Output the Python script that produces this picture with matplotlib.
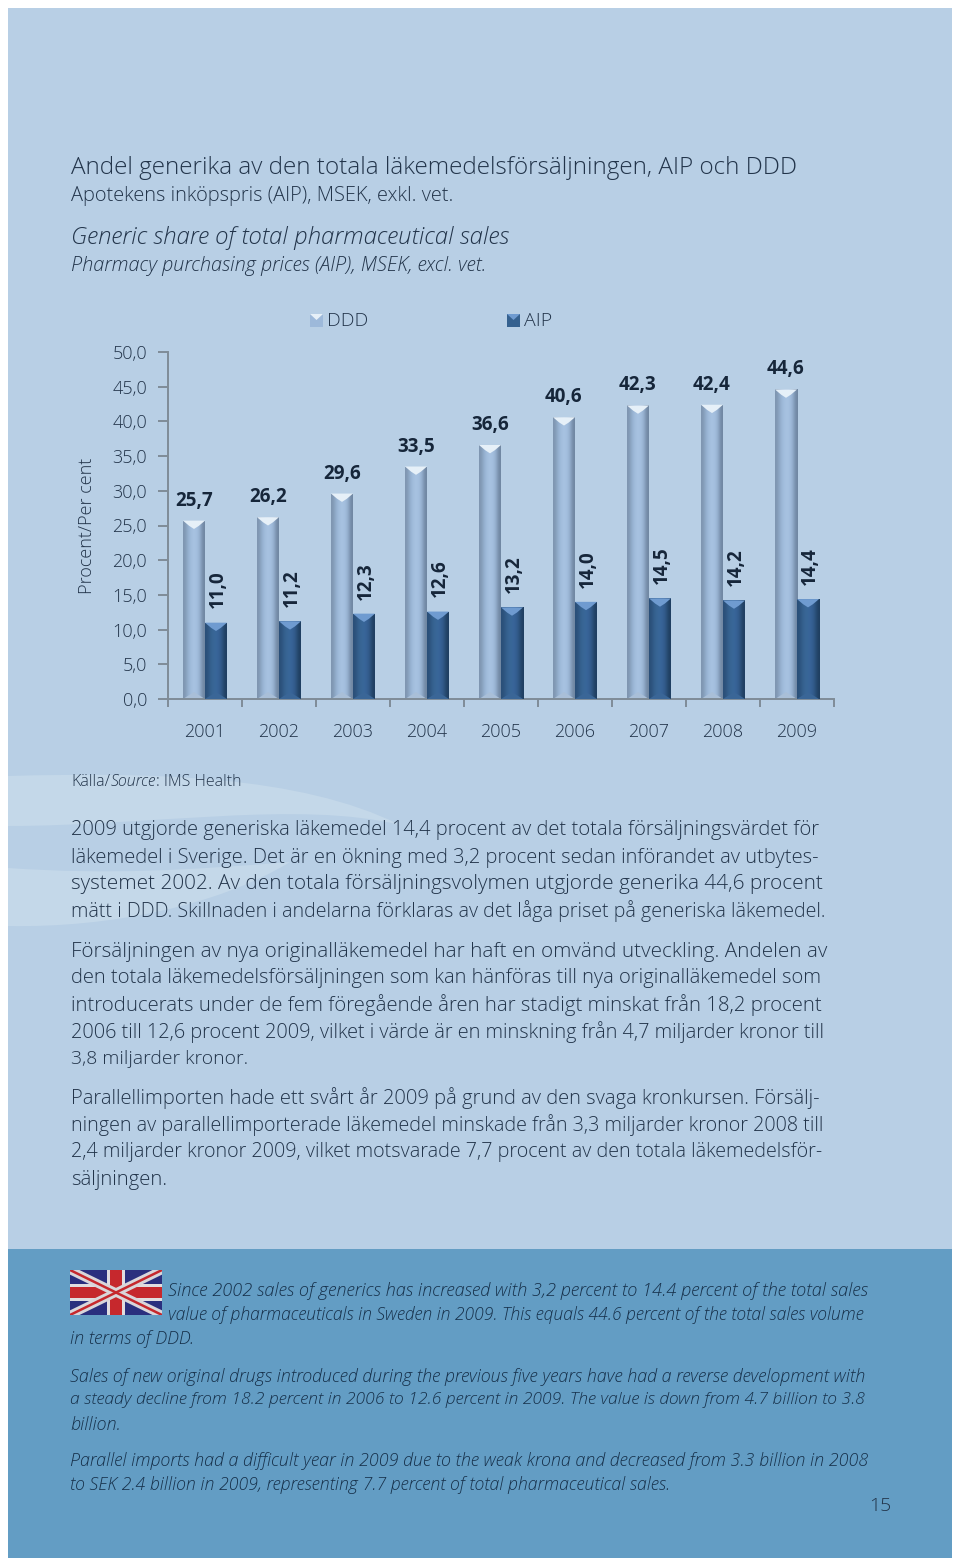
"""
Generic share of pharmaceutical sales - report page with 3D-look bar chart.
"""

import numpy as np
import matplotlib
matplotlib.use("Agg")
import matplotlib.pyplot as plt
from matplotlib.patches import Rectangle, PathPatch, Polygon
from matplotlib.path import Path

plt.rcParams["font.family"] = ["Open Sans", "Lato", "DejaVu Sans"]
plt.rcParams["font.weight"] = "light"

YEARS = ["2001", "2002", "2003", "2004", "2005", "2006", "2007", "2008", "2009"]
DDD = [25.7, 26.2, 29.6, 33.5, 36.6, 40.6, 42.3, 42.4, 44.6]
AIP = [11.0, 11.2, 12.3, 12.6, 13.2, 14.0, 14.5, 14.2, 14.4]
Y_TICKS = [0, 5, 10, 15, 20, 25, 30, 35, 40, 45, 50]

HEADINGS = [
    ("Andel generika av den totala läkemedelsförsäljningen, AIP och DDD", 166, 730, "normal"),
    ("Apotekens inköpspris (AIP), MSEK, exkl. vet.", 194, 385, "normal"),
    ("Generic share of total pharmaceutical sales", 237, 438, "italic"),
    ("Pharmacy purchasing prices (AIP), MSEK, excl. vet.", 265, 416, "italic"),
]

BODY = [
    ("2009 utgjorde generiska läkemedel 14,4 procent av det totala försäljningsvärdet för", 829, True),
    ("läkemedel i Sverige. Det är en ökning med 3,2 procent sedan införandet av utbytes-", 856, True),
    ("systemet 2002. Av den totala försäljningsvolymen utgjorde generika 44,6 procent", 883, True),
    ("mätt i DDD. Skillnaden i andelarna förklaras av det låga priset på generiska läkemedel.", 910, True),
    ("Försäljningen av nya originalläkemedel har haft en omvänd utveckling. Andelen av", 950, True),
    ("den totala läkemedelsförsäljningen som kan hänföras till nya originalläkemedel som", 977, True),
    ("introducerats under de fem föregående åren har stadigt minskat från 18,2 procent", 1004, True),
    ("2006 till 12,6 procent 2009, vilket i värde är en minskning från 4,7 miljarder kronor till", 1031, True),
    ("3,8 miljarder kronor.", 1058, False),
    ("Parallellimporten hade ett svårt år 2009 på grund av den svaga kronkursen. Försälj-", 1097, True),
    ("ningen av parallellimporterade läkemedel minskade från 3,3 miljarder kronor 2008 till", 1124, True),
    ("2,4 miljarder kronor 2009, vilket motsvarade 7,7 procent av den totala läkemedelsför-", 1151, True),
    ("säljningen.", 1179, False),
]

ENGLISH = [
    ("Since 2002 sales of generics has increased with 3,2 percent to 14.4 percent of the total sales", 168, 871, 1289),
    ("value of pharmaceuticals in Sweden in 2009. This equals 44.6 percent of the total sales volume", 168, 871, 1313),
    ("in terms of DDD.", 70, 195, 1337),
    ("Sales of new original drugs introduced during the previous five years have had a reverse development with", 70, 871, 1375),
    ("a steady decline from 18.2 percent in 2006 to 12.6 percent in 2009. The value is down from 4.7 billion to 3.8", 70, 871, 1399),
    ("billion.", 70, 121, 1423),
    ("Parallel imports had a difficult year in 2009 due to the weak krona and decreased from 3.3 billion in 2008", 70, 871, 1460),
    ("to SEK 2.4 billion in 2009, representing 7.7 percent of total pharmaceutical sales.", 70, 673, 1484),
]

TXT = "#22344a"
PANEL = "#b8cfe5"
SWIRL = "#c4d8e9"
BAND = "#639dc4"

fig = plt.figure(figsize=(9.6, 15.64), dpi=100, facecolor="white")
page = fig.add_axes([0, 0, 1, 1])
page.set_xlim(0, 960)
page.set_ylim(1564, 0)
page.axis("off")
renderer = fig.canvas.get_renderer()


def width_of(t):
    return t.get_window_extent(renderer).width


def fit_line(s, x0, target, y, size, style="normal", color=TXT, justify=True):
    # fit one printed line to its measured width, word by word when stretching
    y = y + 1.5
    t = page.text(x0, y, s, fontsize=size, style=style, color=color, va="center")
    w = width_of(t)
    if w > target or not justify:
        t.set_fontsize(size * target / w)
        return
    words = s.split(" ")
    t.remove()
    items = [page.text(x0, y, word, fontsize=size, style=style, color=color, va="center") for word in words]
    widths = [width_of(i) for i in items]
    gap = (target - sum(widths)) / max(len(words) - 1, 1)
    x = x0
    for item, wd in zip(items, widths):
        item.set_x(x)
        x += wd + gap


# page background
page.add_patch(Rectangle((8, 8), 944, 1550, fc=PANEL, ec="none", zorder=0))
swirl1 = Path(
    [(8, 776), (150, 772), (300, 775), (400, 825), (300, 800), (150, 826), (8, 826), (8, 776)],
    [Path.MOVETO, Path.CURVE4, Path.CURVE4, Path.CURVE4, Path.CURVE4, Path.CURVE4, Path.CURVE4, Path.CLOSEPOLY],
)
swirl2 = Path(
    [(8, 868), (110, 875), (190, 870), (290, 862), (220, 905), (110, 928), (8, 926), (8, 868)],
    [Path.MOVETO, Path.CURVE4, Path.CURVE4, Path.CURVE4, Path.CURVE4, Path.CURVE4, Path.CURVE4, Path.CLOSEPOLY],
)
page.add_patch(PathPatch(swirl1, fc=SWIRL, ec="none", zorder=0.5))
page.add_patch(PathPatch(swirl2, fc=SWIRL, ec="none", zorder=0.5))
page.add_patch(Rectangle((8, 1249), 944, 309, fc=BAND, ec="none", zorder=0.5))

# headings
for (s, y, w, style), size in zip(HEADINGS, [18, 14, 18, 14]):
    fit_line(s, 71, w, y, size, style=style, justify=False)

# source line in three runs, placed by measured width
src_x = 71
for part, style in [("Källa/", "normal"), ("Source", "italic"), (": IMS Health", "normal")]:
    t = page.text(src_x, 782, part, fontsize=11.5, style=style, color=TXT, va="center")
    src_x += width_of(t) + 0.5

for s, y, just in BODY:
    t_w = 756 if just else {"3": 178, "s": 97}[s[0]]
    fit_line(s, 71, t_w, y, 15, justify=just)

for s, x0, x1, y in ENGLISH:
    fit_line(s, x0, x1 - x0, y, 14, style="italic", color="#16304a", justify=False)

page.text(880, 1506, "15", fontsize=14, color=TXT, ha="center", va="center")

# union jack
flag = fig.add_axes([70 / 960, 1 - 1315 / 1564, 92 / 960, 45 / 1564])
flag.set_xlim(0, 92)
flag.set_ylim(45, 0)
flag.axis("off")
flag.add_patch(Rectangle((0, 0), 92, 45, fc="#2a2f7e", ec="none"))
flag.plot([0, 92], [0, 45], color="#d9d6da", lw=6, solid_capstyle="butt")
flag.plot([0, 92], [45, 0], color="#d9d6da", lw=6, solid_capstyle="butt")
flag.plot([0, 92], [0, 45], color="#c6282d", lw=1.8, solid_capstyle="butt")
flag.plot([0, 92], [45, 0], color="#c6282d", lw=1.8, solid_capstyle="butt")
flag.add_patch(Rectangle((37, 0), 18, 45, fc="#e0dde0", ec="none"))
flag.add_patch(Rectangle((0, 14), 92, 17, fc="#e0dde0", ec="none"))
flag.add_patch(Rectangle((40, 0), 12, 45, fc="#c6282d", ec="none"))
flag.add_patch(Rectangle((0, 17), 92, 11, fc="#c6282d", ec="none"))

# chart: one x unit is one category, spans 168..834 px, y 0 at 699 and 50 at 352
ax = fig.add_axes([168 / 960, 1 - 699 / 1564, 666 / 960, 347 / 1564])
ax.patch.set_alpha(0)
ax.set_xlim(0, 9)
ax.set_ylim(0, 50)
for name in ["top", "right"]:
    ax.spines[name].set_visible(False)
for name in ["left", "bottom"]:
    ax.spines[name].set_color("#7f8c97")
    ax.spines[name].set_linewidth(1.4)

x = np.arange(len(YEARS))
bar_w = 22 / 74
bars_d = ax.bar(x + 0.5 - bar_w / 2, DDD, bar_w, color="#9db9da", zorder=2)
bars_a = ax.bar(x + 0.5 + bar_w / 2, AIP, bar_w, color="#35618f", zorder=3)


def gradient_bar(bar, stops, top_color, foot_color):
    grad = np.array([[matplotlib.colors.to_rgb(c) for c in stops]])
    bx, bw, bh = bar.get_x(), bar.get_width(), bar.get_height()
    z = bar.get_zorder()
    im = ax.imshow(grad, extent=[bx, bx + bw, 0, bh], aspect="auto", interpolation="bicubic", zorder=z + 0.1)
    im.set_clip_path(bar)
    bevel = 0.75
    ax.add_patch(Polygon([(bx, bh), (bx + bw, bh), (bx + bw * 0.72, bh - bevel), (bx + bw / 2, bh - bevel * 1.6),
                          (bx + bw * 0.28, bh - bevel)], fc=top_color, ec="none", zorder=z + 0.2))
    ax.add_patch(Polygon([(bx, 0), (bx + bw, 0), (bx + bw / 2, 1.0)], fc=foot_color, ec="none", zorder=z + 0.2))


for bar in bars_d:
    gradient_bar(bar, ["#7e95b0", "#97b3d3", "#a6c1e0", "#a8c3e2", "#9ab5d5", "#6f86a1"], "#e6f0f8", "#a9bfd8")
for bar in bars_a:
    gradient_bar(bar, ["#2a4f78", "#35618f", "#3a6898", "#38649a", "#315a88", "#1f3e60"], "#6f9bd0", "#3a6697")

ax.set_xticks(np.arange(len(YEARS) + 1))
ax.set_xticklabels([])
ax.set_yticks(Y_TICKS)
ax.set_yticklabels([f"{v:.1f}".replace(".", ",") for v in Y_TICKS], fontsize=13, color=TXT)
ax.tick_params(axis="y", length=7, width=1.4, color="#7f8c97", pad=8)
ax.tick_params(axis="x", length=6, width=1.4, color="#7f8c97")

for i, year in enumerate(YEARS):
    ax.annotate(year, (i + 0.5, 0), xytext=(0, -33), textcoords="offset pixels", ha="center", va="center",
                fontsize=13, color=TXT)
    ax.annotate(f"{DDD[i]:.1f}".replace(".", ","), (i + 0.35, DDD[i]), xytext=(0, 20), textcoords="offset pixels",
                ha="center", va="center", fontsize=13.5, fontweight="bold", color="#16263a")
    ax.annotate(f"{AIP[i]:.1f}".replace(".", ","), (i + 0.65, AIP[i]), xytext=(2, 33), textcoords="offset pixels",
                ha="center", va="center", rotation=90, fontsize=13.5, fontweight="bold", color="#16263a")

page.text(87, 526, "Procent/Per cent", rotation=90, fontsize=13, color=TXT, ha="center", va="center")

# legend
for sx, col, mark, name in [(310, "#9db9da", "#e6f0f8", "DDD"), (507, "#35618f", "#6f9bd0", "AIP")]:
    page.add_patch(Rectangle((sx, 314), 13, 13, fc=col, ec="none", zorder=3))
    page.add_patch(Polygon([(sx, 314), (sx + 13, 314), (sx + 6.5, 320)], fc=mark, ec="none", zorder=4))
    page.text(sx + 17, 321, name, fontsize=14, color=TXT, va="center")

fig.savefig("out.png", dpi=100, facecolor="white")
plt.close(fig)
